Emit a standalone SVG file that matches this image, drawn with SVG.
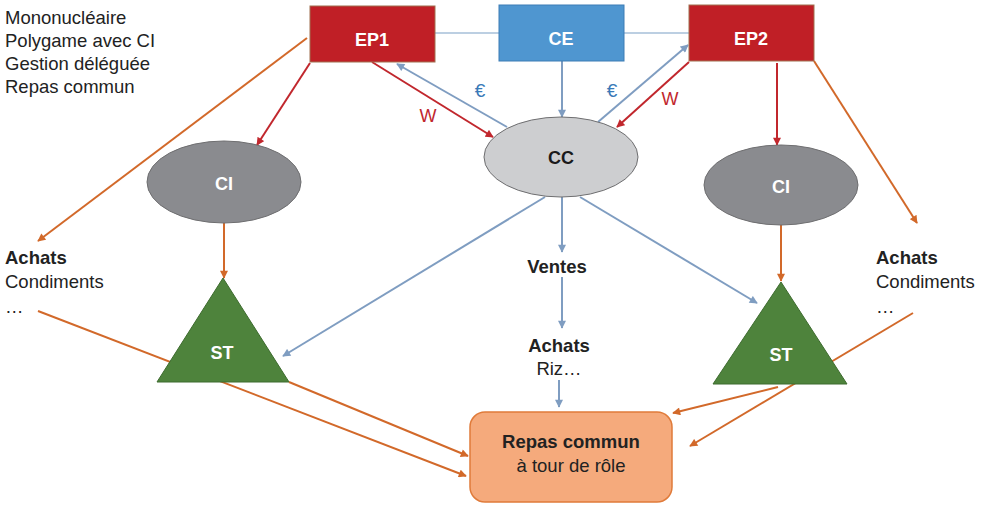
<svg xmlns="http://www.w3.org/2000/svg" width="986" height="506" viewBox="0 0 986 506">
<style>
text{font-family:"Liberation Sans",Arial,sans-serif;}
.lbl{font-size:18.5px;fill:#222;}
.b{font-weight:bold;}
.w{fill:#fff;font-weight:bold;font-size:18px;}
.c{text-anchor:middle;}
.red{stroke:#C1272D;}
.blu{stroke:#7F9DC1;}
.org{stroke:#D2692A;}
.con line{stroke-width:2;fill:none;}
</style>
<defs>
<marker id="aR" viewBox="0 0 10 10" refX="9" refY="5" markerWidth="9" markerHeight="8" markerUnits="userSpaceOnUse" orient="auto"><path d="M0,0L10,5L0,10z" fill="#C1272D"/></marker>
<marker id="aB" viewBox="0 0 10 10" refX="9" refY="5" markerWidth="9" markerHeight="8" markerUnits="userSpaceOnUse" orient="auto"><path d="M0,0L10,5L0,10z" fill="#7F9DC1"/></marker>
<marker id="aO" viewBox="0 0 10 10" refX="9" refY="5" markerWidth="9" markerHeight="8" markerUnits="userSpaceOnUse" orient="auto"><path d="M0,0L10,5L0,10z" fill="#D2692A"/></marker>
</defs>
<rect width="986" height="506" fill="#fff"/>

<g id="connectors" class="con">
<line x1="435" y1="33" x2="499" y2="33" stroke="#BCCFE2" stroke-width="1.5"/>
<line x1="624" y1="33" x2="689" y2="33" stroke="#BCCFE2" stroke-width="1.5"/>
<line class="red" x1="310" y1="63" x2="257" y2="145" marker-end="url(#aR)"/>
<line class="red" x1="372" y1="62" x2="493" y2="137" marker-end="url(#aR)"/>
<line class="blu" x1="507" y1="127" x2="397" y2="64" marker-end="url(#aB)"/>
<line class="blu" x1="562" y1="61" x2="562" y2="117" marker-end="url(#aB)"/>
<line class="blu" x1="598" y1="122" x2="688" y2="45" marker-end="url(#aB)"/>
<line class="red" x1="689" y1="62" x2="617" y2="127" marker-end="url(#aR)"/>
<line class="red" x1="777" y1="63" x2="777" y2="145" marker-end="url(#aR)"/>
<line class="org" x1="814" y1="61" x2="917" y2="223" marker-end="url(#aO)"/>
<line class="org" x1="307" y1="38" x2="38" y2="241" marker-end="url(#aO)"/>
<line class="org" x1="224" y1="223" x2="224" y2="278" marker-end="url(#aO)"/>
<line class="org" x1="781" y1="225" x2="781" y2="281" marker-end="url(#aO)"/>
<line class="blu" x1="545" y1="197" x2="283" y2="356" marker-end="url(#aB)"/>
<line class="blu" x1="562" y1="197" x2="562" y2="252" marker-end="url(#aB)"/>
<line class="blu" x1="580" y1="197" x2="757" y2="303" marker-end="url(#aB)"/>
<line class="blu" x1="562" y1="277" x2="562" y2="328" marker-end="url(#aB)"/>
<line class="blu" x1="559" y1="380" x2="559" y2="407" marker-end="url(#aB)"/>
<line class="org" x1="38" y1="311" x2="466" y2="476" marker-end="url(#aO)"/>
<line class="org" x1="289" y1="382" x2="468" y2="456" marker-end="url(#aO)"/>
<line class="org" x1="913" y1="313" x2="690" y2="446" marker-end="url(#aO)"/>
<line class="org" x1="778" y1="387" x2="673" y2="413" marker-end="url(#aO)"/>
</g>

<g id="EP1"><rect x="310" y="6" width="125" height="56" fill="#C01F26" stroke="#A07050" stroke-width="1"/><text class="w c" x="372" y="46">EP1</text></g>
<g id="CE"><rect x="499" y="5" width="125" height="56" fill="#4F96D0" stroke="#3D7DB5" stroke-width="1"/><text class="w c" x="561" y="45">CE</text></g>
<g id="EP2"><rect x="689" y="5" width="125" height="56" fill="#C01F26" stroke="#A07050" stroke-width="1"/><text class="w c" x="751" y="45">EP2</text></g>
<g id="CC"><ellipse cx="561" cy="157" rx="77" ry="40" fill="#CDCED0" stroke="#6E6E70" stroke-width="1"/><text class="c b" x="561" y="164" font-size="18" fill="#1a1a1a">CC</text></g>
<g id="CI1"><ellipse cx="224" cy="182" rx="77" ry="41" fill="#8A8B8F" stroke="#6E6E70" stroke-width="1"/><text class="w c" x="224" y="190">CI</text></g>
<g id="CI2"><ellipse cx="781" cy="185" rx="77" ry="40" fill="#8A8B8F" stroke="#6E6E70" stroke-width="1"/><text class="w c" x="781" y="193">CI</text></g>
<g id="ST1"><polygon points="223,278 157,382 289,382" fill="#4E833C" stroke="#3D6B2E" stroke-width="1"/><text class="w c" x="222" y="359">ST</text></g>
<g id="ST2"><polygon points="781,282 713,384 847,384" fill="#4E833C" stroke="#3D6B2E" stroke-width="1"/><text class="w c" x="781" y="361">ST</text></g>
<g id="Repas"><rect x="470" y="412" width="202" height="90" rx="15" fill="#F5AA7C" stroke="#E07B3A" stroke-width="1.5"/><text class="c b" x="571" y="448" font-size="18.5" fill="#222">Repas commun</text><text class="c lbl" x="571" y="472">à tour de rôle</text></g>

<g id="labels">
<text class="lbl" x="5" y="24">Mononucléaire</text>
<text class="lbl" x="5" y="47">Polygame avec CI</text>
<text class="lbl" x="5" y="70">Gestion déléguée</text>
<text class="lbl" x="5" y="93">Repas commun</text>
<text class="lbl b" x="5" y="264">Achats</text>
<text class="lbl" x="5" y="288">Condiments</text>
<text class="lbl" x="5" y="313">…</text>
<text class="lbl b" x="876" y="264">Achats</text>
<text class="lbl" x="876" y="288">Condiments</text>
<text class="lbl" x="876" y="313">…</text>
<text class="lbl b c" x="557" y="273">Ventes</text>
<text class="lbl b c" x="559" y="352">Achats</text>
<text class="lbl c" x="559" y="375">Riz…</text>
<text x="480" y="97" font-size="19" fill="#3A7AB8" text-anchor="middle">€</text>
<text x="612" y="97" font-size="19" fill="#3A7AB8" text-anchor="middle">€</text>
<text x="428" y="122" font-size="18" fill="#C1272D" text-anchor="middle">W</text>
<text x="670" y="105" font-size="18" fill="#C1272D" text-anchor="middle">W</text>
</g>
</svg>
